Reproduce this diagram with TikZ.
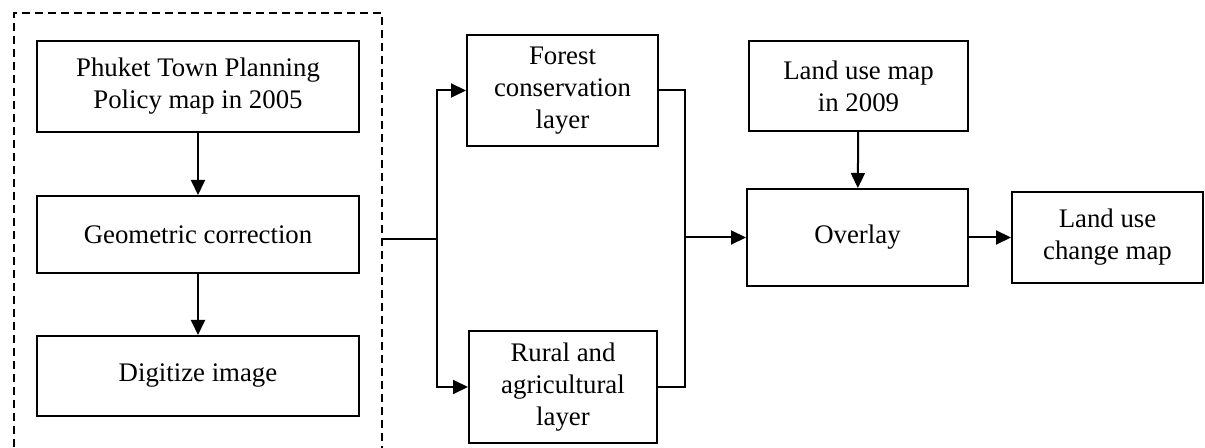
\documentclass[tikz,border=0pt]{standalone}
\usepackage{fontspec}
\setmainfont{Liberation Serif}
\usetikzlibrary{arrows.meta}
\begin{document}
\begin{tikzpicture}[x=0.5pt,y=-0.5pt,
  box/.style={draw,line width=1pt,inner sep=0pt,align=center,
    font=\fontsize{13.4}{16}\selectfont},
  conn/.style={line width=1pt},
  arr/.style={conn,-{Triangle[length=7.5pt,width=7pt]}},
  grp/.style={line width=0.8pt,dash pattern=on 4pt off 2.5pt}]
\useasboundingbox (0,0) rectangle (1205,448);
\begin{scope}
\clip (0,0) rectangle (1205,448);
\draw[grp] (14,460) -- (14,13) -- (382,13) -- (382,460);
\end{scope}
\node[box,minimum width=161pt,minimum height=45.5pt] (p1) at (198,86.5) {Phuket Town Planning\\Policy map in 2005};
\node[box,minimum width=161pt,minimum height=38.5pt] (p2) at (198,234.5) {Geometric correction};
\node[box,minimum width=161pt,minimum height=40pt] (p3) at (198,376) {Digitize image};
\node[box,minimum width=95.5pt,minimum height=55.5pt] (forest) at (562.5,90.5) {Forest\\conservation\\layer};
\node[box,minimum width=94pt,minimum height=56pt] (rural) at (563,387) {Rural and\\agricultural\\layer};
\node[box,minimum width=109.5pt,minimum height=45pt] (lu09) at (858.5,86) {Land use map\\in 2009};
\node[box,minimum width=110.5pt,minimum height=48.5pt] (overlay) at (857.5,237.5) {Overlay};
\node[box,minimum width=95.5pt,minimum height=45.5pt] (change) at (1107.5,237.5) {Land use\\change map};
\coordinate (gout) at (382,239);
\coordinate (j1) at (437,239);
\coordinate (j2) at (685,237.5);
\draw[arr] (p1) -- (p2);
\draw[arr] (p2) -- (p3);
\draw[conn] (gout) -- (j1);
\draw[arr] (j1) |- (forest.west);
\draw[arr] (j1) |- (rural.west);
\draw[conn] (forest.east) -| (j2) |- (rural.east);
\draw[arr] (j2) -- (overlay.west);
\draw[arr] (lu09) -- (overlay);
\draw[arr] (overlay) -- (change);
\end{tikzpicture}
\end{document}
